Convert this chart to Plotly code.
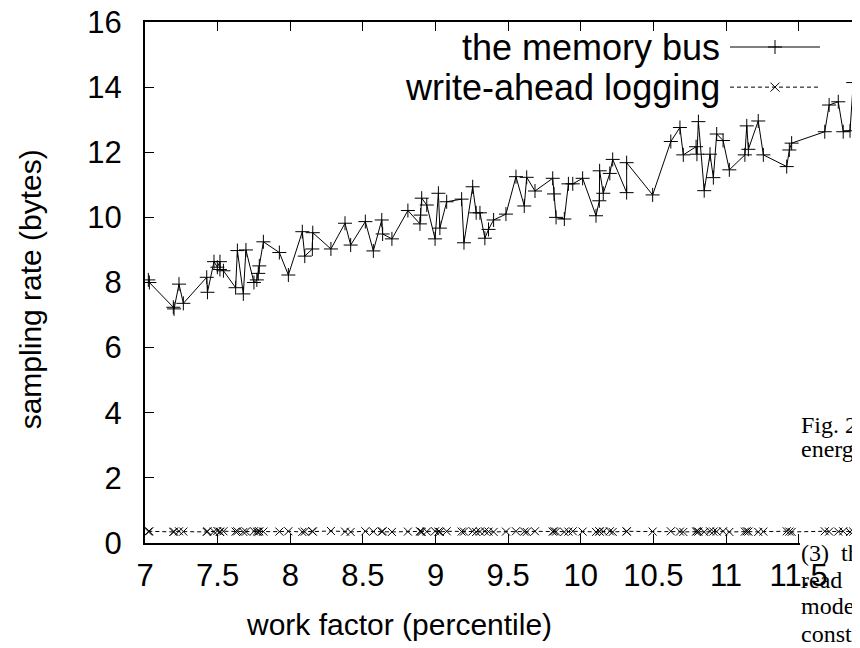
import plotly.graph_objects as go

# ---- data ----
work_factor = [7.023, 7.03, 7.195, 7.20, 7.234, 7.264, 7.425, 7.43, 7.475, 7.498,
               7.516, 7.516, 7.54, 7.624, 7.636, 7.677, 7.695, 7.75, 7.77, 7.78,
               7.787, 7.815, 7.925, 7.987, 8.083, 8.10, 8.152, 8.155, 8.28, 8.377,
               8.416, 8.517, 8.572, 8.63, 8.636, 8.70, 8.81, 8.893, 8.898, 8.905,
               8.94, 8.997, 9.02, 9.03, 9.077, 9.18, 9.196, 9.256, 9.28, 9.306,
               9.34, 9.365, 9.40, 9.485, 9.554, 9.611, 9.628, 9.685, 9.807, 9.816,
               9.83, 9.887, 9.915, 9.945, 10.013, 10.105, 10.128, 10.13, 10.155, 10.20,
               10.22, 10.316, 10.316, 10.495, 10.62, 10.683, 10.706, 10.794, 10.80, 10.81,
               10.85, 10.89, 10.913, 10.936, 10.98, 11.023, 11.13, 11.143, 11.154, 11.222,
               11.257, 11.418, 11.436, 11.452, 11.68, 11.71, 11.773, 11.807, 11.854, 11.876,
               11.92]

memory_bus = [8.08, 8.00, 7.24, 7.19, 7.95, 7.36, 8.16, 7.70, 8.64, 8.47,
              8.64, 8.40, 8.36, 7.84, 8.98, 7.65, 9.00, 8.00, 8.08, 8.28,
              8.51, 9.25, 8.92, 8.23, 9.56, 8.81, 9.03, 9.53, 9.03, 9.82,
              9.15, 9.87, 8.97, 9.92, 9.49, 9.34, 10.21, 9.80, 10.07, 10.59,
              10.38, 9.34, 10.74, 9.67, 10.48, 10.56, 9.22, 10.94, 10.14, 10.14,
              9.36, 9.63, 9.92, 10.10, 11.25, 10.35, 11.23, 10.81, 11.20, 10.72,
              10.00, 9.95, 11.03, 11.03, 11.20, 10.05, 10.51, 11.43, 10.74, 11.35,
              11.78, 10.76, 11.68, 10.69, 12.33, 12.76, 11.92, 12.17, 11.94, 12.94,
              10.82, 11.94, 11.22, 12.56, 12.36, 11.46, 11.92, 12.81, 12.09, 12.96,
              11.92, 11.56, 12.07, 12.28, 12.63, 13.45, 13.55, 12.63, 12.66, 14.14,
              13.96]

write_ahead = [0.35, 0.36, 0.34, 0.35, 0.36, 0.35, 0.34, 0.36, 0.35, 0.37,
               0.35, 0.34, 0.36, 0.35, 0.36, 0.34, 0.35, 0.36, 0.35, 0.34,
               0.36, 0.35, 0.35, 0.36, 0.34, 0.35, 0.36, 0.35, 0.37, 0.35,
               0.34, 0.36, 0.35, 0.35, 0.36, 0.34, 0.35, 0.36, 0.35, 0.34,
               0.35, 0.36, 0.35, 0.34, 0.36, 0.35, 0.35, 0.36, 0.34, 0.35,
               0.36, 0.35, 0.34, 0.35, 0.36, 0.35, 0.34, 0.36, 0.35, 0.36,
               0.35, 0.34, 0.35, 0.36, 0.35, 0.34, 0.36, 0.35, 0.35, 0.36,
               0.34, 0.35, 0.36, 0.35, 0.36, 0.35, 0.34, 0.35, 0.36, 0.35,
               0.34, 0.36, 0.35, 0.35, 0.36, 0.34, 0.35, 0.36, 0.35, 0.34,
               0.35, 0.36, 0.35, 0.34, 0.36, 0.35, 0.35, 0.36, 0.34, 0.35,
               0.36]

series_names = ["the memory bus", "write-ahead logging"]
x_ticks = [7, 7.5, 8, 8.5, 9, 9.5, 10, 10.5, 11, 11.5, 12]
y_ticks = [0, 2, 4, 6, 8, 10, 12, 14, 16]

SANS = "Liberation Sans, Arial, sans-serif"
SERIF = "Liberation Serif, DejaVu Serif, serif"

fig = go.Figure()
fig.add_trace(go.Scatter(
    x=work_factor, y=memory_bus, mode="lines+markers", name=series_names[0],
    line=dict(color="black", width=1),
    marker=dict(symbol="cross-thin", size=10, line=dict(color="black", width=1)),
    showlegend=False))
fig.add_trace(go.Scatter(
    x=work_factor, y=write_ahead, mode="lines+markers", name=series_names[1],
    line=dict(color="black", width=1, dash="4px,3px"),
    marker=dict(symbol="x-thin", size=8, line=dict(color="black", width=1)),
    showlegend=False))

# legend samples drawn gnuplot-style (text left of sample) on a hidden overlay axis
legend_rows = [0.952, 0.875]
legend_line = [0.8125, 0.9375]
legend_mark = [0.875]
fig.add_trace(go.Scatter(x=legend_line, y=[legend_rows[0]] * 2, xaxis="x2", yaxis="y2",
                         mode="lines", line=dict(color="black", width=1), showlegend=False,
                         hoverinfo="skip"))
fig.add_trace(go.Scatter(x=legend_mark, y=[legend_rows[0]], xaxis="x2", yaxis="y2",
                         mode="markers", marker=dict(symbol="cross-thin", size=10,
                                                     line=dict(color="black", width=1)),
                         showlegend=False, hoverinfo="skip"))
fig.add_trace(go.Scatter(x=legend_line, y=[legend_rows[1]] * 2, xaxis="x2", yaxis="y2",
                         mode="lines", line=dict(color="black", width=1, dash="4px,3px"),
                         showlegend=False, hoverinfo="skip"))
fig.add_trace(go.Scatter(x=legend_mark, y=[legend_rows[1]], xaxis="x2", yaxis="y2",
                         mode="markers", marker=dict(symbol="x-thin", size=9,
                                                     line=dict(color="black", width=1)),
                         showlegend=False, hoverinfo="skip"))

def serif(text, x, y, **kw):
    return dict(text=text, x=x, y=y, xref="paper", yref="paper", xanchor="left",
                yanchor="middle", showarrow=False,
                font=dict(family=SERIF, size=24, color="black"), **kw)

annotations = [
    dict(text=series_names[0], x=0.801, y=legend_rows[0], xref="paper", yref="paper",
         xanchor="right", yanchor="middle", showarrow=False, font=dict(family=SANS, size=36, color="black")),
    dict(text=series_names[1], x=0.801, y=legend_rows[1], xref="paper", yref="paper",
         xanchor="right", yanchor="middle", showarrow=False, font=dict(family=SANS, size=36, color="black")),
    dict(text="sampling rate (bytes)", x=-0.159, y=0.486, xref="paper", yref="paper",
         xanchor="center", yanchor="middle", textangle=-90, showarrow=False,
         font=dict(family=SANS, size=30, color="black")),
    dict(text="work factor (percentile)", x=0.353, y=-0.157, xref="paper", yref="paper",
         xanchor="center", yanchor="middle", showarrow=False,
         font=dict(family=SANS, size=30, color="black")),
    # overlapping page text at the right edge
    serif("Fig. 2.", 0.909, 0.2265),
    serif("energ", 0.909, 0.180),
    serif("(3)  th", 0.909, -0.019),
    serif("read", 0.909, -0.071),
    serif("mode", 0.909, -0.121),
    serif("const", 0.909, -0.175),
]

# white strip of the overlapping page hides the axis line right of x=800 (screen)
shapes = [dict(type="rect", xref="paper", yref="paper", x0=0.9097, x1=1.05,
               y0=-0.012, y1=0.0125, line=dict(width=0), fillcolor="white", layer="above")]

# page body adds an 8px offset: plot area spans screen x 145..865, y 22..543
fig.update_layout(
    width=860, height=648,
    margin=dict(l=137, r=3, t=14, b=113),
    paper_bgcolor="white", plot_bgcolor="white",
    font=dict(family=SANS, size=31, color="black"),
    xaxis=dict(range=[7, 11.957], tickvals=x_ticks, ticks="inside", ticklen=9, tickwidth=1,
               tickcolor="black", showline=True, linecolor="black", linewidth=2,
               mirror="ticks", showgrid=False, zeroline=False, ticklabelstandoff=4,
               ticklabeloverflow="allow", automargin=False,
               tickfont=dict(family=SANS, size=31, color="black")),
    yaxis=dict(range=[0, 16], tickvals=y_ticks, ticks="inside", ticklen=9, tickwidth=1,
               tickcolor="black", showline=True, linecolor="black", linewidth=2,
               mirror="ticks", showgrid=False, zeroline=False, ticklabelstandoff=15,
               ticklabeloverflow="allow", automargin=False,
               tickfont=dict(family=SANS, size=31, color="black")),
    xaxis2=dict(range=[0, 1], overlaying="x", visible=False, fixedrange=True),
    yaxis2=dict(range=[0, 1], overlaying="y", visible=False, fixedrange=True),
    shapes=shapes,
    annotations=annotations,
)

fig.write_html("out.html")
